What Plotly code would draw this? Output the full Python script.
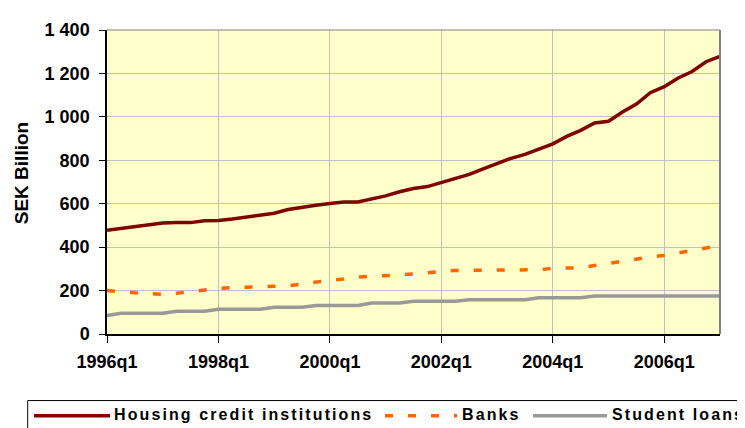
import plotly.graph_objects as go

# ---------------- data ----------------
quarters = [f"{y}q{q}" for y in range(1996, 2008) for q in range(1, 5)][:45]

housing = [478, 487, 495, 503, 511, 513, 513, 522, 523, 530, 538, 546, 556, 573, 585,
           593, 601, 608, 608, 620, 636, 655, 670, 679, 698, 714, 735, 760, 785, 809,
           827, 850, 876, 910, 938, 972, 980, 1022, 1059, 1111, 1139, 1179, 1209, 1254, 1278]

banks = [200, 193, 190, 187, 183, 188, 196, 205, 210, 214, 216, 216, 217, 222, 230,
         240, 248, 253, 262, 266, 268, 272, 277, 282, 287, 293, 293, 293, 293, 294,
         294, 296, 302, 302, 305, 315, 326, 337, 346, 355, 362, 372, 385, 396, 408]

student = [85, 95, 96, 96, 96, 105, 105, 105, 114, 114, 114, 114, 123, 123, 123,
           131, 131, 131, 131, 143, 143, 143, 151, 151, 151, 151, 158, 158, 158, 158,
           158, 167, 167, 167, 167, 175, 175, 175, 175, 175, 175, 175, 175, 175, 175]

series_names = ["Housing credit institutions", "Banks", "Student loans"]

x_tick_vals = ["1996q1", "1998q1", "2000q1", "2002q1", "2004q1", "2006q1"]
y_tick_vals = [0, 200, 400, 600, 800, 1000, 1200, 1400]
y_tick_text = ["0", "200", "400", "600", "800", "1 000", "1 200", "1 400"]

# ---------------- layout geometry ----------------
# the page body adds an 8px offset; geometry below is given in page pixels
OFF = 8
W, H = 745 - OFF, 428 - OFF
PL, PR, PT, PB = 107, 720, 22, 334          # plot area in page pixels
L, T = PL - OFF, PT - OFF
R, B = W - (PR - OFF), H - (PB - OFF)
PW, PH = PR - PL, PB - PT


def px(xp):
    return (xp - PL) / PW


def py(yp):
    return (PB - yp) / PH


FONT = "Liberation Sans, Arial, sans-serif"
colors = ["#800000", "#FF6600", "#999999"]
dashes = ["solid", "8px,15px", "solid"]

fig = go.Figure()
for name, vals, c, d in zip(series_names, [housing, banks, student], colors, dashes):
    fig.add_trace(go.Scatter(x=quarters, y=vals, mode="lines", name=name,
                             line=dict(color=c, width=3.5, dash=d),
                             showlegend=False))

fig.update_layout(
    width=W, height=H,
    margin=dict(l=L, r=R, t=T, b=B),
    paper_bgcolor="white",
    plot_bgcolor="#FFFFCC",
    font=dict(family=FONT, color="black"),
)

fig.update_xaxes(
    type="category",
    range=[0, 44],
    tickmode="array", tickvals=x_tick_vals, ticktext=x_tick_vals,
    ticks="outside", ticklen=7, tickcolor="black", tickwidth=1,
    showgrid=True, gridcolor="#C0C0C0", gridwidth=1,
    showline=True, linecolor="black", linewidth=1.5,
    tickfont=dict(family=FONT, size=18, color="black", weight="bold"),
    ticklabelstandoff=4,
    zeroline=False,
)
fig.update_yaxes(
    range=[0, 1400],
    tickmode="array", tickvals=y_tick_vals, ticktext=y_tick_text,
    ticks="outside", ticklen=6, tickcolor="black", tickwidth=1,
    showgrid=True, gridcolor="#C0C0C0", gridwidth=1,
    showline=True, linecolor="black", linewidth=1.5,
    tickfont=dict(family=FONT, size=18, color="black", weight="bold"),
    ticklabelstandoff=6,
    zeroline=False,
)

# plot-area border (top and right, grey)
fig.add_shape(type="line", xref="paper", yref="paper", x0=0, x1=1, y0=1, y1=1,
              line=dict(color="#808080", width=1.2), layer="above")
fig.add_shape(type="line", xref="paper", yref="paper", x0=1, x1=1, y0=0, y1=1,
              line=dict(color="#808080", width=2), layer="above")

# y-axis title
fig.add_annotation(text="<b>SEK Billion</b>", xref="paper", yref="paper",
                   x=px(21), y=py(169), textangle=-90, showarrow=False,
                   font=dict(family=FONT, size=19, color="black"),
                   xanchor="center", yanchor="middle")

# custom legend
fig.add_shape(type="rect", xref="paper", yref="paper",
              x0=px(27.7), x1=px(770), y0=py(402.3), y1=py(445),
              line=dict(color="black", width=1), fillcolor="white", layer="above")
samples = [(34, 110), (385, 457), (533, 607)]
text_x = [112.5, 461, 610.5]
leg_y = 418
for (a, b), tx, name, c, d in zip(samples, text_x, series_names, colors, dashes):
    fig.add_shape(type="line", xref="paper", yref="paper",
                  x0=px(a), x1=px(b), y0=py(leg_y), y1=py(leg_y),
                  line=dict(color=c, width=3.5, dash=d), layer="above")
    fig.add_annotation(text=f"<span style='letter-spacing:2.1px'><b>{name}</b></span>",
                       xref="paper", yref="paper", x=px(tx), y=py(417),
                       xanchor="left", yanchor="middle", showarrow=False,
                       borderpad=0,
                       font=dict(family=FONT, size=16, color="black"))

fig.write_html("out.html")
